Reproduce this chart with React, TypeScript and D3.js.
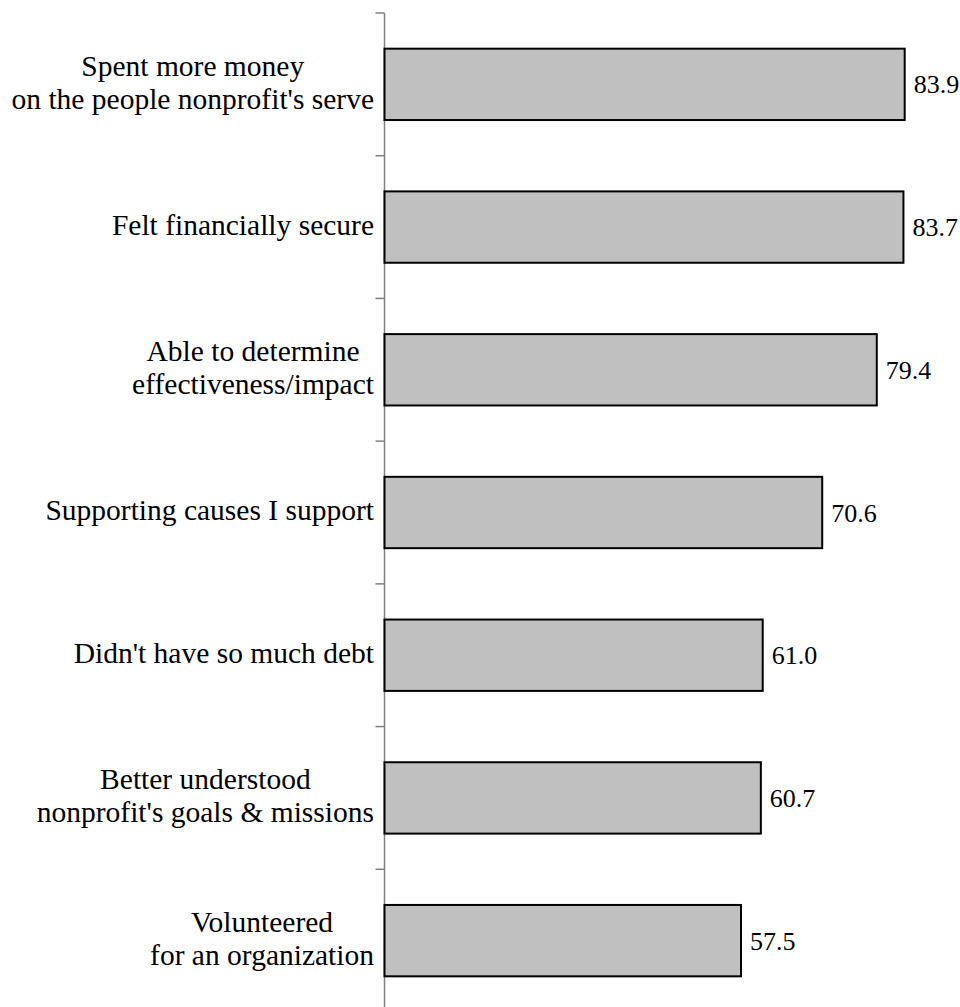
import React from "react";
import * as d3 from "d3";

const categories: string[][] = [
  ["Spent more money", "on the people nonprofit's serve"],
  ["Felt financially secure"],
  ["Able to determine", "effectiveness/impact"],
  ["Supporting causes I support"],
  ["Didn't have so much debt"],
  ["Better understood", "nonprofit's goals & missions"],
  ["Volunteered", "for an organization"],
];
const values: number[] = [83.9, 83.7, 79.4, 70.6, 61.0, 60.7, 57.5];

const W = 960;
const H = 1007;
const axisX = 384.5;
const FONT = "'Liberation Serif', 'Times New Roman', serif";
const CAT_FS = 29.5;
const VAL_FS = 26;
const LH = 33;
const LABEL_RIGHT = 374;

function measure(text: string, fs: number): number {
  if (typeof document === "undefined") return text.length * fs * 0.45;
  const c = document.createElement("canvas").getContext("2d");
  if (!c) return text.length * fs * 0.45;
  c.font = `${fs}px 'Liberation Serif'`;
  return c.measureText(text).width;
}

export default function App() {
  const ids = categories.map((_, i) => String(i));
  const y = d3.scaleBand<string>().domain(ids).range([13, 1012]).paddingInner(0.5).paddingOuter(0.25);
  const x = d3.scaleLinear().domain([0, 100]).range([axisX, axisX + 620]);
  const step = y.step();
  const ticks = d3.range(ids.length + 1).map((i) => 13 + i * step);
  return (
    <svg width={W} height={H} style={{ display: "block", position: "absolute", left: 0, top: 0 }}>
      <rect width={W} height={H} fill="#fff" />
      <line x1={axisX} x2={axisX} y1={13} y2={H} stroke="#808080" strokeWidth={1.5} />
      {ticks.map((t, i) => (
        <line key={i} x1={axisX - 9} x2={axisX} y1={t} y2={t} stroke="#808080" strokeWidth={1.5} />
      ))}
      {values.map((v, i) => {
        const yy = y(ids[i])!;
        const bw = y.bandwidth();
        const cy = yy + bw / 2;
        const lines = categories[i];
        const maxW = d3.max(lines, (l) => measure(l, CAT_FS)) || 0;
        const cx = LABEL_RIGHT - maxW / 2;
        return (
          <g key={i}>
            <rect x={x(0)} y={yy} width={x(v) - x(0)} height={bw} fill="#c0c0c0" stroke="#000" strokeWidth={2} />
            <text x={x(v) + 9} y={cy} dy="0.35em" style={{ fontFamily: FONT, fontSize: VAL_FS }} fill="#000">
              {v.toFixed(1)}
            </text>
            {lines.map((l, j) => (
              <text
                key={j}
                x={cx}
                y={cy + (j - (lines.length - 1) / 2) * LH}
                dy="0.27em"
                textAnchor="middle"
                style={{ fontFamily: FONT, fontSize: CAT_FS }}
                fill="#000"
              >
                {l}
              </text>
            ))}
          </g>
        );
      })}
    </svg>
  );
}
